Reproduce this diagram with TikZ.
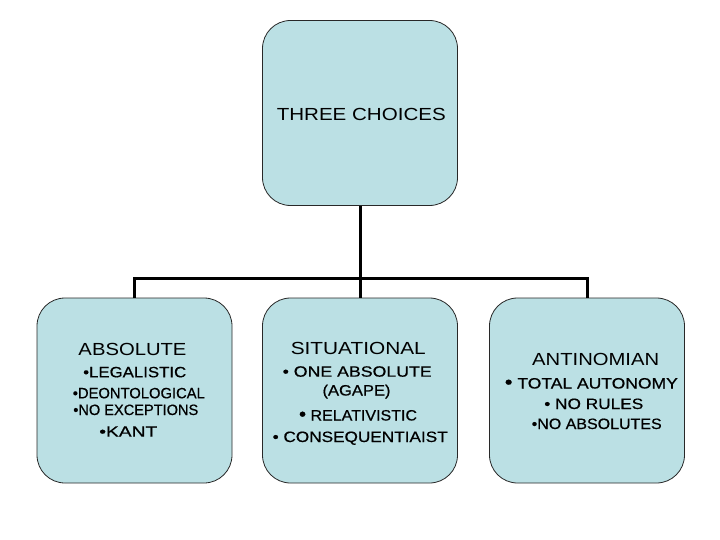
\documentclass[tikz,border=0pt]{standalone}
\usepackage{fontspec}
\setmainfont{Liberation Sans}
\newfontfamily\itemfont[FakeBold=0.6]{Liberation Sans}
\usepackage{graphicx}
\definecolor{boxfill}{RGB}{187,224,228}
\definecolor{boxline}{RGB}{40,40,40}
\tikzset{
  box/.style={draw=boxline, line width=0.8pt, fill=boxfill, rounded corners=28pt,
    minimum width=195pt, minimum height=185pt, inner sep=0pt},
  conn/.style={line width=3pt, black},
  head/.style={anchor=base, inner sep=0pt, font=\fontsize{17.5}{20}\selectfont},
  item/.style={anchor=base, inner sep=0pt, font=\itemfont\fontsize{15}{17}\selectfont},
}
\newcommand\fw[2]{\resizebox{#1pt}{\height}{#2}}
\begin{document}
\begin{tikzpicture}[x=1pt,y=-1pt]
\useasboundingbox (0,0) rectangle (720,540);
% boxes
\node[box] (top) at (360,113) {};
\node[box] (left) at (134.5,390.5) {};
\node[box] (mid) at (360,390.5) {};
\node[box] (right) at (587,390.5) {};
% connectors
\coordinate (bus) at (360,278);
\draw[conn] (top.south) -- (mid.north);
\draw[conn] (left.north) |- (bus) -| (right.north);
% title
\node[head] (t0) at (361.3,121) {\fw{169}{THREE CHOICES}};
% left
\node[head] (l0) at (132.5,355.7) {\fw{108}{ABSOLUTE}};
\node[item] (l1) at (134.7,377.3) {\fw{103}{•LEGALISTIC}};
\node[item] (l2) at (138.8,398.3) {\fw{132}{•DEONTOLOGICAL}};
\node[item] (l3) at (135.8,415) {\fw{125}{•NO EXCEPTIONS}};
\node[item] (l4) at (128.3,436.7) {\fw{58}{•KANT}};
% middle
\node[head] (m0) at (358.3,354) {\fw{135}{SITUATIONAL}};
\node[item] (m1) at (357.2,376.7) {\fw{149}{• ONE ABSOLUTE}};
\node[item] (m2) at (356.5,395.5) {\fw{68}{(AGAPE)}};
\node[item] (m3) at (358,420.5) {\fw{118}{{\fontsize{19}{19}\selectfont•} RELATIVISTIC}};
\node[item] (m4) at (360.2,442) {\fw{175}{• CONSEQUENTIAIST}};
% right
\node[head] (r0) at (595.7,365) {\fw{127}{ANTINOMIAN}};
\node[item] (r1) at (591.3,388.5) {\fw{173}{{\fontsize{19}{19}\selectfont•} TOTAL AUTONOMY}};
\node[item] (r2) at (593.8,409) {\fw{99}{• NO RULES}};
\node[item] (r3) at (596.7,429) {\fw{130}{•NO ABSOLUTES}};
\end{tikzpicture}
\end{document}
